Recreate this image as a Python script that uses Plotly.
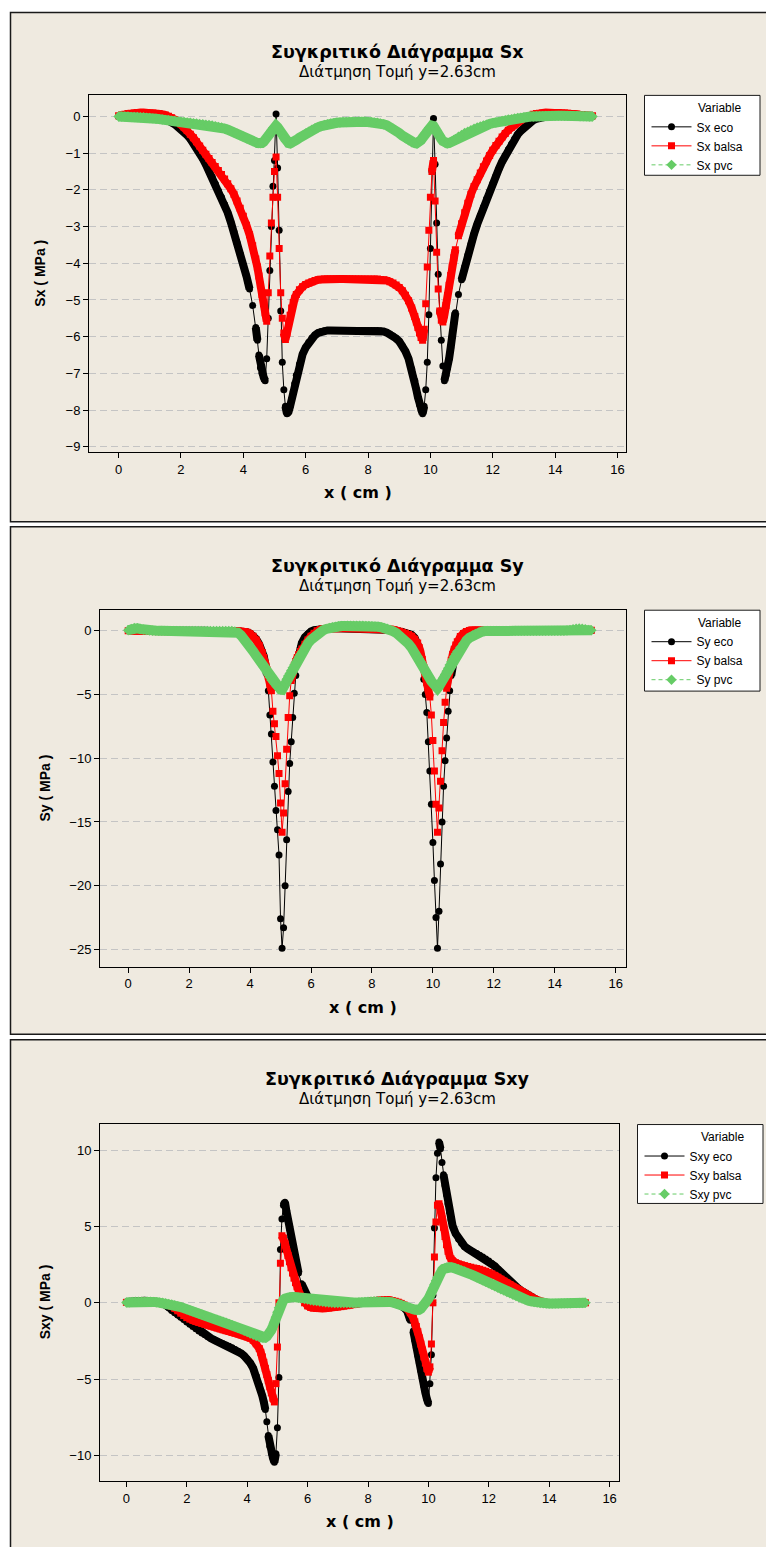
import math
import plotly.graph_objects as go

W, H = 766, 1547
FONT = "Liberation Sans, Arial, sans-serif"
HEAD_FONT = "DejaVu Sans, Verdana, sans-serif"

# Sampling positions along the section line (cm)
X_CM = [
    0.0, 0.1, 0.2, 0.3, 0.4, 0.5, 0.6, 0.7, 0.8, 0.9,
    1.0, 1.1, 1.2, 1.3, 1.4, 1.5, 1.6, 1.7, 1.8, 1.9,
    2.0, 2.1, 2.2, 2.3, 2.4, 2.5, 2.6, 2.7, 2.8, 2.9,
    3.0, 3.1, 3.2, 3.3, 3.4, 3.5, 3.6, 3.7, 3.8, 3.9,
    4.0, 4.1, 4.2, 4.3, 4.4,
    4.45, 4.5, 4.55, 4.6, 4.65, 4.7, 4.75, 4.8, 4.85, 4.9,
    4.95, 5.0, 5.05, 5.1, 5.15, 5.2, 5.25, 5.3, 5.35, 5.4,
    5.45, 5.5, 5.55, 5.6, 5.65, 5.7,
    5.8, 5.9, 6.0, 6.1, 6.2, 6.3, 6.4, 6.5, 6.6, 6.7,
    6.8, 6.9, 7.0, 7.1, 7.2, 7.3, 7.4, 7.5, 7.6, 7.7,
    7.8, 7.9, 8.0, 8.1, 8.2, 8.3, 8.4, 8.5, 8.6, 8.7,
    8.8, 8.9, 9.0, 9.1, 9.2, 9.3, 9.4, 9.5,
    9.55, 9.6, 9.65, 9.7, 9.75, 9.8, 9.85, 9.9, 9.95, 10.0,
    10.05, 10.1, 10.15, 10.2, 10.25, 10.3, 10.35, 10.4, 10.45, 10.5,
    10.55, 10.6, 10.65, 10.7, 10.75, 10.8,
    10.9, 11.0, 11.1, 11.2, 11.3, 11.4, 11.5, 11.6, 11.7, 11.8,
    11.9, 12.0, 12.1, 12.2, 12.3, 12.4, 12.5, 12.6, 12.7, 12.8,
    12.9, 13.0, 13.1, 13.2, 13.3, 13.4, 13.5, 13.6, 13.7, 13.8,
    13.9, 14.0, 14.1, 14.2, 14.3, 14.4, 14.5, 14.6, 14.7, 14.8,
    14.9, 15.0, 15.1, 15.2,
]

# ---- Sx (MPa) ----
SX_ECO = [
    0.0, 0.02, 0.04, 0.05, 0.06, 0.07, 0.07, 0.07, 0.07, 0.06,
    0.05, 0.04, 0.02, 0.0, -0.03, -0.07, -0.11, -0.16, -0.21, -0.27,
    -0.34, -0.42, -0.51, -0.61, -0.73, -0.86, -1.0, -1.15, -1.31, -1.48,
    -1.65, -1.83, -2.02, -2.2, -2.4, -2.62, -2.88, -3.15, -3.45, -3.75,
    -4.05, -4.35, -4.7, -5.15, -5.75,
    -6.1, -6.5, -6.85, -7.0, -7.1, -7.2, -6.6, -5.5, -4.2, -3.0,
    -1.9, -1.2, 0.07, -1.4, -3.1, -5.3, -6.7, -7.45, -7.9, -8.1,
    -8.05, -7.9, -7.7, -7.5, -7.28, -7.05,
    -6.75, -6.48, -6.3, -6.15, -6.04, -5.96, -5.9, -5.86, -5.84, -5.83,
    -5.83, -5.83, -5.83, -5.83, -5.83, -5.83, -5.83, -5.83, -5.83, -5.83,
    -5.83, -5.83, -5.83, -5.83, -5.83, -5.83, -5.84, -5.86, -5.89, -5.93,
    -5.98, -6.05, -6.13, -6.25, -6.4, -6.6, -6.88, -7.2,
    -7.45, -7.65, -7.85, -8.0, -8.1, -7.9, -7.45, -6.7, -5.4, -3.6,
    -1.5, -0.05, -1.3, -2.9, -4.3, -5.3, -6.1, -6.8, -7.2, -7.05,
    -6.85, -6.6, -6.3, -6.0, -5.65, -5.35,
    -4.85, -4.45, -4.1, -3.78, -3.48, -3.2, -2.94, -2.7, -2.47, -2.25,
    -2.04, -1.83, -1.62, -1.42, -1.23, -1.06, -0.9, -0.75, -0.61, -0.49,
    -0.39, -0.3, -0.22, -0.15, -0.1, -0.06, -0.03, -0.01, 0.0, 0.01,
    0.02, 0.03, 0.04, 0.05, 0.05, 0.05, 0.05, 0.05, 0.04, 0.03,
    0.02, 0.02, 0.01, 0.0,
]
SX_BALSA = [
    0.02, 0.04, 0.06, 0.08, 0.09, 0.1, 0.11, 0.11, 0.11, 0.11,
    0.1, 0.1, 0.09, 0.08, 0.06, 0.04, 0.01, -0.03, -0.08, -0.14,
    -0.21, -0.29, -0.38, -0.48, -0.58, -0.69, -0.8, -0.92, -1.03, -1.14,
    -1.25, -1.36, -1.47, -1.58, -1.7, -1.83, -1.97, -2.12, -2.3, -2.5,
    -2.72, -2.96, -3.22, -3.52, -3.88,
    -4.1, -4.35, -4.6, -4.85, -5.1, -5.35, -5.58, -4.8, -3.8, -2.9,
    -2.2, -1.5, -1.1, -2.2, -3.6, -4.8, -5.5, -5.9, -6.08, -5.9,
    -5.65, -5.42, -5.22, -5.07, -4.95, -4.85,
    -4.72, -4.64, -4.58, -4.54, -4.5, -4.47, -4.45, -4.44, -4.43, -4.43,
    -4.43, -4.43, -4.43, -4.43, -4.43, -4.43, -4.43, -4.43, -4.43, -4.43,
    -4.43, -4.43, -4.43, -4.43, -4.43, -4.43, -4.44, -4.45, -4.47, -4.5,
    -4.54, -4.59, -4.66, -4.75, -4.87, -5.02, -5.22, -5.45,
    -5.6, -5.75, -5.9, -6.02, -6.1, -5.8, -5.1, -4.1, -3.1, -2.2,
    -1.5, -1.2, -2.3, -3.7, -4.7, -5.3, -5.55, -5.6, -5.4, -5.15,
    -4.88, -4.6, -4.33, -4.08, -3.85, -3.63,
    -3.25, -2.92, -2.62, -2.36, -2.12, -1.91, -1.72, -1.54, -1.37, -1.21,
    -1.06, -0.92, -0.79, -0.67, -0.56, -0.46, -0.37, -0.29, -0.22, -0.15,
    -0.09, -0.04, 0.0, 0.03, 0.06, 0.08, 0.09, 0.1, 0.11, 0.11,
    0.11, 0.11, 0.11, 0.1, 0.1, 0.09, 0.08, 0.07, 0.06, 0.05,
    0.04, 0.03, 0.02, 0.02,
]
SX_PVC = [
    0.0, 0.0, 0.0, 0.0, -0.01, -0.01, -0.01, -0.02, -0.02, -0.03,
    -0.04, -0.05, -0.06, -0.07, -0.08, -0.09, -0.1, -0.11, -0.12, -0.13,
    -0.14, -0.15, -0.16, -0.17, -0.18, -0.19, -0.2, -0.21, -0.22, -0.23,
    -0.24, -0.26, -0.28, -0.3, -0.33, -0.36, -0.39, -0.43, -0.47, -0.51,
    -0.55, -0.59, -0.63, -0.67, -0.7,
    -0.72, -0.73, -0.73, -0.72, -0.69, -0.64, -0.58, -0.51, -0.44, -0.37,
    -0.31, -0.27, -0.25, -0.29, -0.36, -0.44, -0.52, -0.6, -0.66, -0.7,
    -0.72, -0.73, -0.72, -0.7, -0.67, -0.64,
    -0.58, -0.52, -0.46, -0.41, -0.36, -0.32, -0.29, -0.26, -0.23, -0.21,
    -0.19, -0.18, -0.17, -0.16, -0.15, -0.15, -0.14, -0.14, -0.14, -0.14,
    -0.14, -0.14, -0.15, -0.15, -0.16, -0.17, -0.19, -0.21, -0.24, -0.28,
    -0.33, -0.39, -0.45, -0.52, -0.59, -0.65, -0.7, -0.72,
    -0.73, -0.72, -0.69, -0.64, -0.58, -0.51, -0.44, -0.37, -0.31, -0.27,
    -0.25, -0.26, -0.31, -0.38, -0.46, -0.54, -0.61, -0.67, -0.71, -0.73,
    -0.73, -0.72, -0.7, -0.67, -0.64, -0.61,
    -0.55, -0.5, -0.45, -0.41, -0.37, -0.33, -0.3, -0.27, -0.24, -0.22,
    -0.2, -0.18, -0.16, -0.14, -0.12, -0.1, -0.08, -0.07, -0.05, -0.04,
    -0.03, -0.02, -0.01, 0.0, 0.0, 0.01, 0.01, 0.01, 0.02, 0.02,
    0.02, 0.02, 0.02, 0.02, 0.02, 0.02, 0.02, 0.02, 0.02, 0.01,
    0.01, 0.01, 0.0, 0.0,
]

# ---- Sy (MPa) ----
SY_ECO = [
    0.05, 0.08, 0.1, 0.1, 0.08, 0.05, 0.03, 0.02, 0.01, 0.0,
    0.0, 0.0, 0.0, 0.0, 0.0, 0.0, 0.0, 0.0, 0.0, 0.0,
    0.0, 0.0, 0.0, 0.0, 0.0, 0.0, 0.0, 0.0, 0.0, 0.0,
    0.0, 0.0, 0.0, 0.0, 0.0, 0.0, 0.0, -0.02, -0.05, -0.1,
    -0.2, -0.38, -0.65, -1.05, -1.6,
    -2.0, -2.6, -3.4, -4.7, -6.6, -8.1, -10.3, -12.2, -14.1, -15.6,
    -17.6, -22.6, -24.9, -23.3, -20.0, -16.4, -12.6, -10.4, -8.7, -6.8,
    -4.9, -3.5, -2.5, -1.8, -1.3, -0.95,
    -0.5, -0.22, -0.05, 0.05, 0.1, 0.15, 0.18, 0.2, 0.2, 0.2,
    0.2, 0.2, 0.2, 0.2, 0.2, 0.2, 0.2, 0.2, 0.2, 0.2,
    0.2, 0.2, 0.2, 0.2, 0.2, 0.18, 0.15, 0.12, 0.1, 0.06,
    0.02, -0.02, -0.06, -0.12, -0.2, -0.32, -0.55, -0.95,
    -1.4, -2.0, -2.8, -3.8, -5.0, -6.4, -8.7, -11.0, -13.6, -16.6,
    -19.6, -22.5, -24.9, -22.0, -18.3, -15.0, -12.2, -10.2, -8.4, -6.3,
    -4.7, -3.5, -2.6, -1.95, -1.45, -1.1,
    -0.6, -0.3, -0.12, -0.03, 0.0, 0.0, 0.0, 0.0, 0.0, 0.0,
    0.0, 0.0, 0.0, 0.0, 0.0, 0.0, 0.0, 0.0, 0.0, 0.0,
    0.0, 0.0, 0.0, 0.0, 0.0, 0.0, 0.0, 0.0, 0.0, 0.0,
    0.0, 0.0, 0.0, 0.0, 0.0, 0.0, 0.0, 0.03, 0.05, 0.05,
    0.04, 0.03, 0.02, 0.0,
]
SY_BALSA = [
    0.0, 0.0, 0.0, 0.0, 0.0, 0.0, 0.0, 0.0, 0.0, 0.0,
    0.0, 0.0, 0.0, 0.0, 0.0, 0.0, 0.0, 0.0, 0.0, 0.0,
    0.0, 0.0, 0.0, 0.0, 0.0, 0.0, 0.0, 0.0, 0.0, 0.0,
    0.0, 0.0, 0.0, 0.0, 0.0, 0.0, 0.0, -0.02, -0.05, -0.1,
    -0.22, -0.42, -0.72, -1.15, -1.7,
    -2.1, -2.55, -3.05, -3.6, -4.15, -4.7, -6.3, -7.3, -8.3, -9.8,
    -11.2, -13.5, -15.8, -14.3, -12.0, -9.3, -6.8, -5.1, -3.9, -3.2,
    -2.75, -2.4, -2.1, -1.85, -1.62, -1.42,
    -1.05, -0.72, -0.42, -0.18, 0.0, 0.1, 0.15, 0.18, 0.2, 0.2,
    0.2, 0.2, 0.2, 0.2, 0.2, 0.2, 0.2, 0.2, 0.2, 0.2,
    0.2, 0.2, 0.2, 0.2, 0.2, 0.2, 0.18, 0.15, 0.12, 0.08,
    0.03, -0.03, -0.1, -0.18, -0.28, -0.42, -0.65, -0.95,
    -1.3, -1.75, -2.25, -2.85, -3.45, -4.05, -4.6, -5.2, -6.6, -8.6,
    -11.0, -13.6, -15.8, -13.9, -11.8, -9.4, -7.2, -5.6, -4.5, -3.6,
    -2.9, -2.3, -1.85, -1.45, -1.12, -0.85,
    -0.45, -0.2, -0.05, 0.03, 0.05, 0.05, 0.03, 0.02, 0.02, 0.02,
    0.02, 0.02, 0.02, 0.02, 0.02, 0.02, 0.02, 0.02, 0.02, 0.02,
    0.02, 0.02, 0.02, 0.02, 0.02, 0.02, 0.02, 0.02, 0.02, 0.02,
    0.02, 0.02, 0.02, 0.02, 0.02, 0.02, 0.05, 0.05, 0.05, 0.05,
    0.05, 0.05, 0.05, 0.05,
]
SY_PVC = [
    0.05, 0.15, 0.22, 0.2, 0.15, 0.1, 0.06, 0.03, 0.01, 0.0,
    0.0, 0.0, 0.0, 0.0, 0.0, 0.0, 0.0, 0.0, 0.0, 0.0,
    0.0, 0.0, 0.0, 0.0, 0.0, 0.0, 0.0, 0.0, 0.0, 0.0,
    0.0, 0.0, 0.0, 0.0, 0.0, -0.05, -0.15, -0.35, -0.6, -0.9,
    -1.25, -1.6, -1.95, -2.3, -2.65,
    -2.85, -3.05, -3.25, -3.45, -3.65, -3.85, -4.0, -4.15, -4.3, -4.43,
    -4.53, -4.6, -4.62, -4.4, -4.1, -3.8, -3.55, -3.35, -3.12, -2.9,
    -2.68, -2.47, -2.26, -2.06, -1.86, -1.67,
    -1.3, -0.98, -0.7, -0.45, -0.25, -0.08, 0.05, 0.15, 0.23, 0.29,
    0.33, 0.36, 0.38, 0.39, 0.4, 0.4, 0.4, 0.4, 0.4, 0.4,
    0.39, 0.38, 0.37, 0.35, 0.32, 0.28, 0.23, 0.16, 0.07, -0.04,
    -0.17, -0.33, -0.52, -0.75, -1.02, -1.33, -1.68, -2.02,
    -2.22, -2.43, -2.65, -2.88, -3.1, -3.32, -3.54, -3.75, -3.95, -4.14,
    -4.3, -4.43, -4.5, -4.35, -4.15, -3.92, -3.68, -3.43, -3.18, -2.93,
    -2.68, -2.45, -2.23, -2.02, -1.82, -1.63,
    -1.3, -1.0, -0.75, -0.54, -0.37, -0.24, -0.14, -0.07, -0.02, 0.0,
    0.0, 0.0, 0.0, 0.0, 0.0, 0.0, 0.0, 0.0, 0.0, 0.0,
    0.0, 0.0, 0.0, 0.0, 0.0, 0.0, 0.0, 0.0, 0.0, 0.0,
    0.0, 0.0, 0.0, 0.0, 0.0, 0.03, 0.07, 0.12, 0.16, 0.18,
    0.16, 0.12, 0.08, 0.05,
]

# ---- Sxy (MPa) ----
SXY_ECO = [
    0.05, 0.08, 0.1, 0.12, 0.13, 0.13, 0.13, 0.12, 0.11, 0.09,
    0.06, 0.02, -0.04, -0.15, -0.3, -0.5, -0.65, -0.8, -0.95, -1.1,
    -1.25, -1.4, -1.55, -1.7, -1.85, -1.98, -2.1, -2.22, -2.33, -2.43,
    -2.52, -2.6, -2.68, -2.76, -2.85, -2.95, -3.06, -3.18, -3.32, -3.48,
    -3.68, -3.95, -4.3, -4.8, -5.4,
    -5.75, -6.1, -6.5, -7.0, -7.8, -8.7, -9.4, -9.85, -10.15, -10.45,
    -9.9, -8.2, -4.9, 3.5, 5.5, 6.4, 6.6, 6.0, 5.4, 4.85,
    4.3, 3.8, 3.25, 2.8, 2.35, 1.95,
    1.25, 0.75, 0.3, 0.0, -0.15, -0.22, -0.25, -0.26, -0.25, -0.23,
    -0.2, -0.17, -0.14, -0.11, -0.08, -0.05, -0.02, 0.0, 0.03, 0.05,
    0.08, 0.1, 0.12, 0.14, 0.15, 0.16, 0.16, 0.15, 0.13, 0.1,
    0.05, -0.02, -0.1, -0.2, -0.33, -0.55, -1.15, -1.85,
    -2.45, -2.95, -3.45, -3.95, -4.45, -4.95, -5.45, -5.9, -6.3, -6.6,
    -5.3, -3.4, 0.5, 4.9, 8.2, 9.8, 10.55, 10.1, 9.2, 8.4,
    7.7, 7.1, 6.5, 5.95, 5.45, 5.05,
    4.55, 4.18, 3.9, 3.7, 3.55, 3.43, 3.33, 3.23, 3.12, 3.0,
    2.88, 2.74, 2.58, 2.4, 2.2, 2.0, 1.8, 1.58, 1.36, 1.2,
    1.05, 0.9, 0.76, 0.62, 0.48, 0.35, 0.23, 0.13, 0.05, 0.0,
    -0.03, -0.04, -0.04, -0.04, -0.04, -0.04, -0.04, -0.03, -0.03, -0.02,
    -0.02, -0.01, 0.0, 0.0,
]
SXY_BALSA = [
    0.03, 0.05, 0.07, 0.08, 0.09, 0.1, 0.1, 0.1, 0.09, 0.08,
    0.06, 0.03, -0.01, -0.06, -0.13, -0.22, -0.36, -0.52, -0.68, -0.84,
    -0.97, -1.07, -1.15, -1.22, -1.29, -1.35, -1.41, -1.47, -1.53, -1.59,
    -1.65, -1.71, -1.77, -1.83, -1.88, -1.94, -1.99, -2.04, -2.1, -2.16,
    -2.23, -2.32, -2.46, -2.68, -3.0,
    -3.25, -3.55, -3.9, -4.3, -4.7, -5.1, -5.5, -5.9, -6.25, -6.5,
    -5.3, -2.9, 0.0, 2.6, 4.4, 4.25, 3.9, 3.5, 3.1, 2.7,
    2.3, 1.95, 1.62, 1.32, 1.05, 0.8,
    0.35, 0.0, -0.2, -0.3, -0.35, -0.37, -0.38, -0.37, -0.36, -0.34,
    -0.32, -0.3, -0.28, -0.25, -0.22, -0.19, -0.16, -0.12, -0.08, -0.04,
    0.0, 0.04, 0.08, 0.11, 0.14, 0.16, 0.18, 0.19, 0.19, 0.18,
    0.15, 0.1, 0.04, -0.04, -0.15, -0.35, -0.65, -1.0,
    -1.25, -1.55, -1.9, -2.3, -2.7, -3.1, -3.55, -3.95, -4.3, -4.55,
    -4.2, -2.7, 0.0, 3.0, 5.3, 6.4, 6.5, 6.1, 5.5, 4.95,
    4.35, 3.8, 3.38, 3.08, 2.88, 2.75,
    2.62, 2.54, 2.48, 2.43, 2.38, 2.33, 2.29, 2.25, 2.2, 2.14,
    2.07, 1.99, 1.9, 1.8, 1.68, 1.55, 1.42, 1.3, 1.2, 1.08,
    0.96, 0.85, 0.74, 0.62, 0.5, 0.38, 0.27, 0.17, 0.09, 0.03,
    -0.01, -0.03, -0.05, -0.05, -0.05, -0.05, -0.04, -0.04, -0.03, -0.03,
    -0.02, -0.02, -0.01, 0.0,
]
SXY_PVC = [
    0.02, 0.04, 0.06, 0.07, 0.08, 0.08, 0.08, 0.08, 0.07, 0.06,
    0.04, 0.02, 0.0, -0.03, -0.07, -0.11, -0.16, -0.22, -0.28, -0.35,
    -0.42, -0.49, -0.56, -0.63, -0.7, -0.77, -0.84, -0.91, -0.98, -1.05,
    -1.11, -1.17, -1.24, -1.31, -1.38, -1.47, -1.56, -1.65, -1.74, -1.83,
    -1.92, -2.01, -2.1, -2.18, -2.25,
    -2.28, -2.3, -2.3, -2.27, -2.2, -2.1, -1.96, -1.78, -1.55, -1.27,
    -0.95, -0.62, -0.32, -0.08, 0.08, 0.19, 0.27, 0.32, 0.35, 0.37,
    0.38, 0.38, 0.38, 0.37, 0.35, 0.33,
    0.29, 0.25, 0.21, 0.17, 0.14, 0.11, 0.08, 0.06, 0.04, 0.02,
    0.0, -0.01, -0.02, -0.02, -0.02, -0.02, -0.02, -0.01, 0.0, 0.02,
    0.04, 0.06, 0.08, 0.09, 0.1, 0.1, 0.1, 0.09, 0.08, 0.06,
    0.03, -0.01, -0.06, -0.12, -0.19, -0.27, -0.35, -0.42,
    -0.46, -0.48, -0.48, -0.45, -0.39, -0.3, -0.19, -0.06, 0.09, 0.26,
    0.46, 0.7, 0.95, 1.2, 1.45, 1.68, 1.87, 2.02, 2.13, 2.22,
    2.28, 2.32, 2.34, 2.34, 2.33, 2.31,
    2.26, 2.2, 2.13, 2.05, 1.96, 1.87, 1.78, 1.68, 1.58, 1.48,
    1.38, 1.28, 1.18, 1.08, 0.98, 0.89, 0.8, 0.71, 0.62, 0.53,
    0.44, 0.36, 0.28, 0.21, 0.15, 0.1, 0.05, 0.01, -0.02, -0.04,
    -0.05, -0.05, -0.05, -0.05, -0.05, -0.04, -0.04, -0.03, -0.03, -0.02,
    -0.02, -0.01, -0.01, 0.0,
]

X_TICKS = [0, 2, 4, 6, 8, 10, 12, 14, 16]
SX_TICKS = [0, -1, -2, -3, -4, -5, -6, -7, -8, -9]
SY_TICKS = [0, -5, -10, -15, -20, -25]
SXY_TICKS = [10, 5, 0, -5, -10]
MATERIALS = ["eco", "balsa", "pvc"]

STYLE = {
    "eco": dict(color="#000000", symbol="circle", size=7, dash="solid", band=8),
    "balsa": dict(color="#FF0000", symbol="square", size=7, dash="solid", band=8),
    "pvc": dict(color="#66CC66", symbol="diamond", size=8, dash="4px,3px", band=10),
}

# Pixel geometry of each panel: frame, plot rectangle, legend box, axis ranges.
# band_gap: neighbouring samples closer than this (px) merge into a solid band.
PANELS = [
    dict(var="Sx", series=[SX_ECO, SX_BALSA, SX_PVC], yticks=SX_TICKS,
         frame=(10.5, 12.5, 800, 522.5), plot=(89, 95, 626, 453),
         legend=(644.5, 95.5, 760, 175.5), band_gap=14,
         xrange=[-0.949, 16.273], yrange=[-9.156, 0.591], ytitle_x=40),
    dict(var="Sy", series=[SY_ECO, SY_BALSA, SY_PVC], yticks=SY_TICKS,
         frame=(10.5, 527.5, 800, 1035.5), plot=(100, 611, 626, 968),
         legend=(644.5, 611, 760, 692), band_gap=12,
         xrange=[-0.925, 16.337], yrange=[-26.36, 1.62], ytitle_x=45),
    dict(var="Sxy", series=[SXY_ECO, SXY_BALSA, SXY_PVC], yticks=SXY_TICKS,
         frame=(10.5, 1041, 800, 1560), plot=(100, 1125, 619, 1483),
         legend=(637.5, 1126, 763, 1205), band_gap=11,
         xrange=[-0.874, 16.311], yrange=[-11.69, 11.755], ytitle_x=45),
]


def fx(px):
    return px / W


def fy(py):
    return 1 - py / H


def band_runs(xs, ys, kx, ky, gap):
    """Keep only the stretches where neighbouring samples sit close on screen."""
    bx, by, run_open = [], [], False
    for i in range(len(xs) - 1):
        d = math.hypot((xs[i + 1] - xs[i]) * kx, (ys[i + 1] - ys[i]) * ky)
        if d <= gap:
            if not run_open:
                bx.append(xs[i])
                by.append(ys[i])
                run_open = True
            bx.append(xs[i + 1])
            by.append(ys[i + 1])
        elif run_open:
            bx.append(None)
            by.append(None)
            run_open = False
    return bx, by


fig = go.Figure()
shapes, annotations, layout_axes = [], [], {}

for i, p in enumerate(PANELS):
    n = "" if i == 0 else str(i + 1)
    fl, ft, fr, fb = p["frame"]
    pl, pt, pr, pb = p["plot"]
    ll, lt, lr, lb = p["legend"]
    kx = (pr - pl) / (p["xrange"][1] - p["xrange"][0])
    ky = (pb - pt) / (p["yrange"][1] - p["yrange"][0])

    # panel background and frame
    shapes.append(dict(type="rect", xref="paper", yref="paper", layer="below",
                       x0=fx(fl), x1=fx(fr), y0=fy(fb), y1=fy(ft),
                       fillcolor="#EFEAE0", line=dict(color="#1A1A1A", width=1.5)))
    # legend box
    shapes.append(dict(type="rect", xref="paper", yref="paper", layer="above",
                       x0=fx(ll), x1=fx(lr), y0=fy(lb), y1=fy(lt),
                       fillcolor="white", line=dict(color="#1A1A1A", width=1)))

    cx = (fl + 785) / 2
    annotations += [
        dict(text=f"<b>Συγκριτικό Διάγραμμα {p['var']}</b>", x=fx(cx), y=fy(ft + 39.5),
             xref="paper", yref="paper", showarrow=False, xanchor="center", yanchor="middle",
             font=dict(size=17.5, family=HEAD_FONT, color="black")),
        dict(text="Διάτμηση Τομή y=2.63cm", x=fx(cx), y=fy(ft + 59.5),
             xref="paper", yref="paper", showarrow=False, xanchor="center", yanchor="middle",
             font=dict(size=15, family=HEAD_FONT, color="black")),
        dict(text="<b>x ( cm )</b>", x=fx((pl + pr) / 2), y=fy(pb + 40.5),
             xref="paper", yref="paper", showarrow=False, xanchor="center", yanchor="middle",
             font=dict(size=16, family=HEAD_FONT, color="black")),
        dict(text=f"<b>{p['var']} ( MPa )</b>", x=fx(p["ytitle_x"]), y=fy((pt + pb) / 2),
             xref="paper", yref="paper", showarrow=False, xanchor="center", yanchor="middle",
             textangle=-90, font=dict(size=14, family=FONT, color="black")),
        dict(text="Variable", x=fx(lr - 17), y=fy(lt + 12.5),
             xref="paper", yref="paper", showarrow=False, xanchor="right", yanchor="middle",
             font=dict(size=12, family=FONT, color="black")),
    ]

    layout_axes[f"xaxis{n}"] = dict(
        domain=[fx(pl), fx(pr)], range=p["xrange"], anchor=f"y{n}",
        tickmode="array", tickvals=X_TICKS, ticks="outside", ticklen=5,
        tickcolor="black", showline=True, linecolor="black", linewidth=1,
        mirror=True, showgrid=False, zeroline=False,
        tickfont=dict(size=13, family=FONT, color="black"),
    )
    layout_axes[f"yaxis{n}"] = dict(
        domain=[fy(pb), fy(pt)], range=p["yrange"], anchor=f"x{n}",
        tickmode="array", tickvals=p["yticks"], ticks="outside", ticklen=5,
        tickcolor="black", showline=True, linecolor="black", linewidth=1,
        mirror=True, showgrid=True, gridcolor="#C4C4C4", gridwidth=1,
        griddash="7px,4px", zeroline=False,
        tickfont=dict(size=13, family=FONT, color="black"),
    )

    leg = "legend" if i == 0 else f"legend{i + 1}"
    layout_axes[leg] = dict(
        x=fx(ll + 2), y=fy(lt + 17), xanchor="left", yanchor="top",
        bgcolor="rgba(0,0,0,0)", borderwidth=0, itemwidth=40,
        font=dict(size=12, family=FONT, color="black"), tracegroupgap=0,
    )

    for mat, vals in zip(MATERIALS, p["series"]):
        st = STYLE[mat]
        bx, by = band_runs(X_CM, vals, kx, ky, p["band_gap"])
        # densely sampled stretches read as a solid band of markers
        fig.add_trace(go.Scatter(
            x=bx, y=by, mode="lines", xaxis=f"x{n}", yaxis=f"y{n}", legend=leg,
            showlegend=False, hoverinfo="skip", connectgaps=False,
            line=dict(color=st["color"], width=st["band"]),
        ))
        fig.add_trace(go.Scatter(
            x=X_CM, y=vals, mode="lines+markers", name=f"{p['var']} {mat}",
            xaxis=f"x{n}", yaxis=f"y{n}", legend=leg,
            line=dict(color=st["color"], width=1, dash=st["dash"]),
            marker=dict(symbol=st["symbol"], size=st["size"], color=st["color"],
                        line=dict(width=0)),
        ))

fig.update_layout(
    width=W, height=H, margin=dict(l=0, r=0, t=0, b=0),
    paper_bgcolor="white", plot_bgcolor="white",
    font=dict(family=FONT, color="black"),
    shapes=shapes, annotations=annotations, showlegend=True,
    **layout_axes,
)

fig.write_html("out.html")
